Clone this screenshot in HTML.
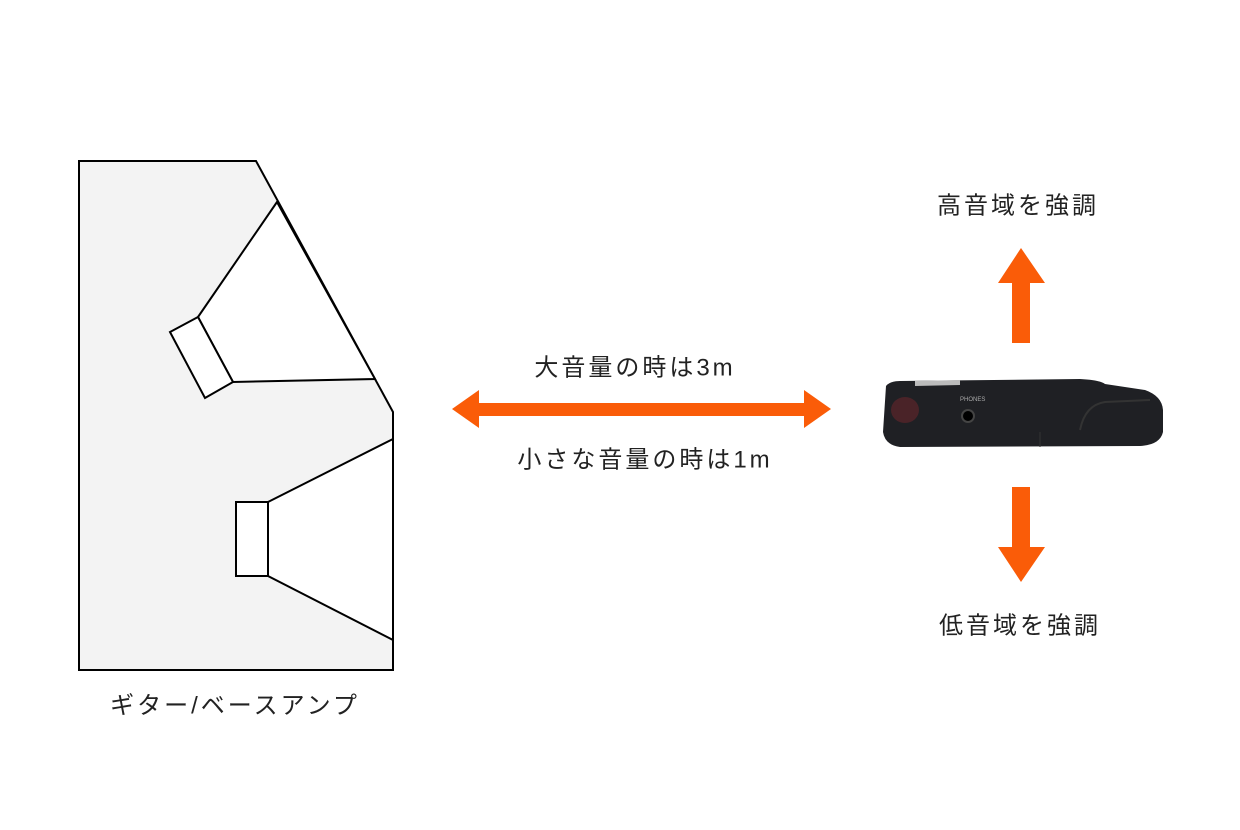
<!DOCTYPE html>
<html><head><meta charset="utf-8"><style>
body{margin:0;background:#fff;}
.t{position:absolute;font-family:"Liberation Sans","Noto Sans CJK JP",sans-serif;font-size:24px;letter-spacing:3px;color:#222;white-space:nowrap;transform:translate(-50%,-50%);}
</style></head><body>
<div style="position:relative;width:1240px;height:830px;overflow:hidden">
<svg width="1240" height="830" style="position:absolute;left:0;top:0">
<polygon points="79,161 256,161 393,412 393,670 79,670" fill="#f3f3f3" stroke="#000" stroke-width="2"/>
<polygon points="277,202 198,317 233,382 375,379" fill="#fff" stroke="#000" stroke-width="2"/>
<polygon points="198,317 170,332 205,398 233,382" fill="#fff" stroke="#000" stroke-width="2"/>
<polygon points="268,502 393,439 393,640 268,576" fill="#fff" stroke="#000" stroke-width="2"/>
<rect x="236" y="502" width="32" height="74" fill="#fff" stroke="#000" stroke-width="2"/>
<line x1="393" y1="412" x2="393" y2="670" stroke="#000" stroke-width="2"/>
<polygon points="452,409 479,390 479,403 804,403 804,390 831,409 804,428 804,416 479,416 479,428" fill="#fa5c08"/>
<polygon points="1021,248 998,283 1012,283 1012,343 1030,343 1030,283 1045,283" fill="#fa5c08"/>
<polygon points="1021,582 998,547 1012,547 1012,487 1030,487 1030,547 1045,547" fill="#fa5c08"/>
<path d="M886,386 Q890,381 900,381 L1080,379 Q1100,380 1105,384 L1145,390 Q1162,396 1163,410 L1163,432 Q1160,445 1140,446 L900,447 Q885,445 883,432 Z" fill="#1f2024"/>
<path d="M915,381 L960,380 L960,385 L915,386 Z" fill="#bbb"/>
<ellipse cx="905" cy="410" rx="14" ry="13" fill="#4a2328"/>
<circle cx="968" cy="416" r="6" fill="#000" stroke="#444" stroke-width="2"/>
<text x="960" y="401" font-family="Liberation Sans" font-size="6" fill="#aaa">PHONES</text>
<path d="M1080,430 Q1085,405 1105,402 L1150,400" stroke="#333" fill="none" stroke-width="2"/>
<line x1="1040" y1="432" x2="1040" y2="447" stroke="#333"/>
</svg>
<div class="t" style="left:1018px;top:203px">高音域を強調</div>
<div class="t" style="left:1020px;top:623px">低音域を強調</div>
<div class="t" style="left:635px;top:365px">大音量の時は3m</div>
<div class="t" style="left:645px;top:457px">小さな音量の時は1m</div>
<div class="t" style="left:235px;top:703px">ギター/ベースアンプ</div>
</div>
</body></html>
